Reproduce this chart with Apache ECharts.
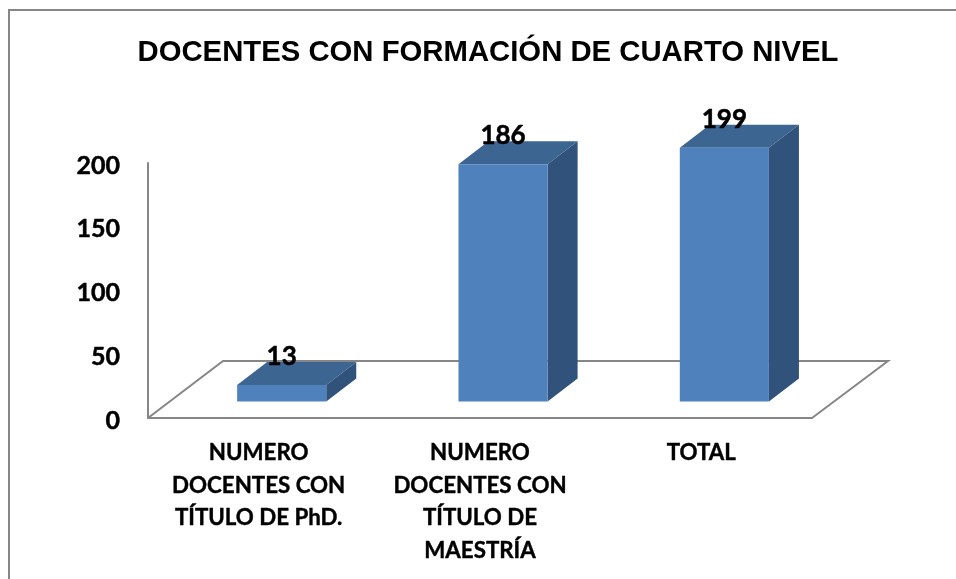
<!DOCTYPE html>
<html>
<head>
<meta charset="utf-8">
<style>html,body{margin:0;padding:0;background:#fff}#c{width:956px;height:579px}</style>
<script src="https://cdn.jsdelivr.net/npm/echarts@6/dist/echarts.min.js"></script>
</head>
<body>
<div id="c"></div>
<script>
var titleText = 'DOCENTES CON FORMACIÓN DE CUARTO NIVEL';
var categories = ['NUMERO\nDOCENTES CON\nTÍTULO DE PhD.', 'NUMERO\nDOCENTES CON\nTÍTULO DE\nMAESTRÍA', 'TOTAL'];
var values = [13, 186, 199];
var yTicks = {min: 0, max: 200, interval: 50};

var colFront = '#4f81bd', colTop = '#3d6591', colSide = '#31537b', colLine = '#868686';
var labelFont = 'Lato, Carlito, Calibri, sans-serif';
var depthX = 30, depthY = 23, baseLift = 16.5, barShift = 23 / 221, barRatio = 89 / 221;

var chart = echarts.init(document.getElementById('c'), null, {renderer: 'canvas'});

function renderFloor(params, api) {
  var cs = params.coordSys;
  var l = cs.x, r = cs.x + cs.width, b = cs.y + cs.height;
  return {
    type: 'polyline',
    shape: {points: [[l, b], [l + 75, b - 57], [r + 76, b - 57], [r, b]]},
    style: {stroke: colLine, lineWidth: 2, fill: null}
  };
}

function renderBar(params, api) {
  var i = api.value(0), v = api.value(1);
  var top = api.coord([i, v]);
  var bottom = api.coord([i, 0]);
  var band = api.size([1, 0])[0];
  var w = band * barRatio;
  var x0 = top[0] + band * barShift - w / 2, x1 = x0 + w;
  var yBase = bottom[1] - baseLift;
  var yTop = top[1] - baseLift;
  return {
    type: 'group',
    children: [
      {type: 'polygon', shape: {points: [[x0, yTop], [x1, yTop], [x1 + depthX, yTop - depthY], [x0 + depthX, yTop - depthY]]}, style: {fill: colTop}},
      {type: 'polygon', shape: {points: [[x1, yTop], [x1 + depthX, yTop - depthY], [x1 + depthX, yBase - depthY], [x1, yBase]]}, style: {fill: colSide}},
      {type: 'rect', shape: {x: x0, y: yTop, width: w, height: yBase - yTop}, style: {fill: colFront}},
      {type: 'text', z2: 10, style: {text: String(v), x: (x0 + x1) / 2, y: yTop - 28.5, align: 'center', verticalAlign: 'middle', fill: '#000', font: 'bold 26px ' + labelFont, stroke: '#000', lineWidth: 0.5}}
    ]
  };
}

chart.setOption({
  backgroundColor: '#fff',
  animation: false,
  title: {
    text: titleText, left: 483, top: 33, textAlign: 'center',
    textStyle: {fontFamily: '"Liberation Sans", Arial, sans-serif', fontWeight: 'bold', fontSize: 29.3, color: '#000'}
  },
  graphic: [{
    type: 'polyline', silent: true,
    shape: {points: [[9, 579], [9, 10], [956, 10]]},
    style: {stroke: colLine, lineWidth: 2, fill: null}
  }],
  grid: {left: 148, top: 163, width: 664, height: 255, containLabel: false},
  xAxis: {
    type: 'category', data: categories,
    axisTick: {show: false},
    axisLine: {lineStyle: {color: colLine, width: 2}},
    axisLabel: {interval: 0, margin: 19, color: '#000', fontFamily: labelFont, fontWeight: 'bold', fontSize: 22.3, lineHeight: 32.5, verticalAlign: 'top', textBorderColor: '#000', textBorderWidth: 0.4}
  },
  yAxis: {
    type: 'value', min: yTicks.min, max: yTicks.max, interval: yTicks.interval,
    splitLine: {show: false},
    axisTick: {show: false},
    axisLine: {show: true, lineStyle: {color: colLine, width: 2}},
    axisLabel: {
      margin: 28, formatter: '{a|{value}}',
      rich: {a: {color: '#000', fontFamily: labelFont, fontWeight: 'bold', fontSize: 25, padding: [5, 0, 0, 0], textBorderColor: '#000', textBorderWidth: 0.5}}
    }
  },
  series: [
    {type: 'custom', data: [[0, 0]], renderItem: renderFloor, z: 1, silent: true, clip: false},
    {type: 'custom', data: values.map(function (v, i) { return [i, v]; }), encode: {x: 0, y: 1}, renderItem: renderBar, z: 2, clip: false}
  ]
});
</script>
</body>
</html>
